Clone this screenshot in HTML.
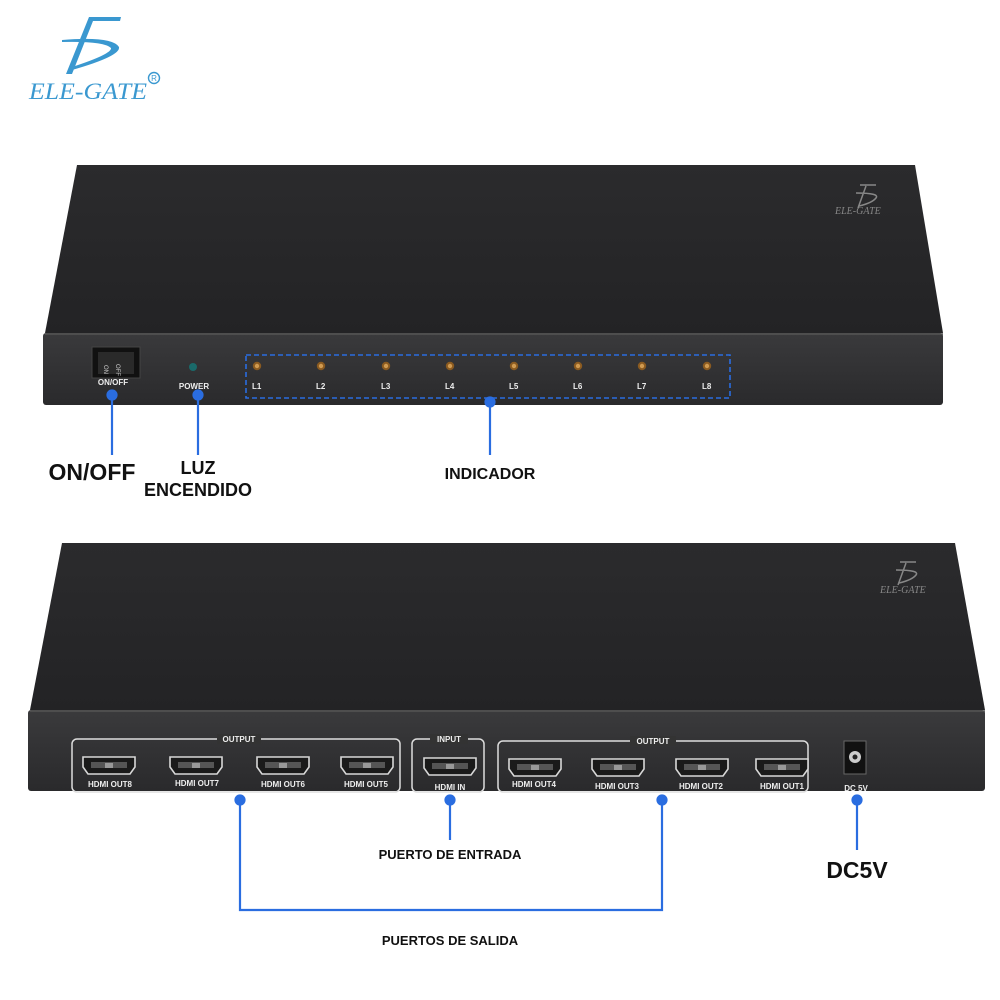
<!DOCTYPE html>
<html><head><meta charset="utf-8"><style>
html,body{margin:0;padding:0;background:#fff}
svg{display:block}
text{font-family:"Liberation Sans",sans-serif}
</style></head><body>
<svg width="1000" height="1000" viewBox="0 0 1000 1000" xmlns="http://www.w3.org/2000/svg">
<defs>
<linearGradient id="tf" x1="0" y1="0" x2="0" y2="1"><stop offset="0" stop-color="#2b2b2d"/><stop offset="1" stop-color="#232325"/></linearGradient>
<linearGradient id="fp" x1="0" y1="0" x2="0" y2="1"><stop offset="0" stop-color="#3a3a3c"/><stop offset="1" stop-color="#2a2a2c"/></linearGradient>
<g id="hdmi"><path d="M-26,-9 H26 V1 L21,8 H-21 L-26,1 Z" fill="#1a1a1a" stroke="#d8d8d8" stroke-width="1.6"/><rect x="-18" y="-4" width="36" height="6" fill="#555"/><rect x="-4" y="-3" width="8" height="5" fill="#999"/></g>
<g id="led"><circle r="4.2" fill="#8a5a20"/><circle r="2.2" fill="#d09a50"/></g>
</defs>

<g fill="#3a98d0">
<path d="M89,17 L121,17 L120,21 L93,21 L72,74 L66,74 Z"/>
<path d="M62,40 Q112,36 119,47 Q121,56 72,70 L72,67 Q112,54 111,48 Q104,41 62,42 Z"/>
</g>
<text x="29" y="99" textLength="118" lengthAdjust="spacingAndGlyphs" style="font-family:'Liberation Serif',serif;font-style:italic" font-size="23" fill="#3a98d0">ELE-GATE</text>
<circle cx="154" cy="78" r="5.5" fill="none" stroke="#3a98d0" stroke-width="1.4"/>
<text x="154" y="81" text-anchor="middle" font-size="8" fill="#3a98d0">R</text>

<path d="M77,165 L915,165 L943,333 L45,333 Z" fill="url(#tf)"/>
<rect x="43" y="333" width="900" height="72" rx="3" fill="url(#fp)"/>
<line x1="45" y1="334" x2="943" y2="334" stroke="#555" stroke-width="1.5"/>
<path d="M860,185 L876,185 M866,186 L858,208 M856,193 Q880,193 876,198 Q872,203 859,206" stroke="#888" stroke-width="1.5" fill="none"/>
<text x="835" y="214" style="font-family:'Liberation Serif',serif;font-style:italic" font-size="10" fill="#888">ELE-GATE</text>
<rect x="92" y="347" width="48" height="31" fill="#111" stroke="#444"/>
<rect x="98" y="352" width="36" height="22" fill="#2a2a2a"/>
<text x="107" y="368" font-size="6" fill="#ccc" transform="rotate(90 107 365)">ON</text>
<text x="119" y="367" font-size="6" fill="#ccc" transform="rotate(90 119 364)">OFF</text>
<text x="113" y="385" text-anchor="middle" font-size="8" font-weight="bold" fill="#eee">ON/OFF</text>
<circle cx="193" cy="367" r="4" fill="#1a6a6a"/>
<text x="194" y="389" text-anchor="middle" font-size="8" font-weight="bold" fill="#eee">POWER</text>
<rect x="246" y="355" width="484" height="43" fill="none" stroke="#2a6de0" stroke-width="1.6" stroke-dasharray="5,3"/>
<g font-size="8" font-weight="bold" fill="#eee">
<use href="#led" x="257" y="366"/><text x="252" y="389">L1</text>
<use href="#led" x="321" y="366"/><text x="316" y="389">L2</text>
<use href="#led" x="386" y="366"/><text x="381" y="389">L3</text>
<use href="#led" x="450" y="366"/><text x="445" y="389">L4</text>
<use href="#led" x="514" y="366"/><text x="509" y="389">L5</text>
<use href="#led" x="578" y="366"/><text x="573" y="389">L6</text>
<use href="#led" x="642" y="366"/><text x="637" y="389">L7</text>
<use href="#led" x="707" y="366"/><text x="702" y="389">L8</text>
</g>
<g stroke="#2a6de0" stroke-width="2.2" fill="#2a6de0">
<line x1="112" y1="395" x2="112" y2="455"/><circle cx="112" cy="395" r="4.5"/>
<line x1="198" y1="395" x2="198" y2="455"/><circle cx="198" cy="395" r="4.5"/>
<line x1="490" y1="402" x2="490" y2="455"/><circle cx="490" cy="402" r="4.5"/>
</g>
<text x="92" y="480" text-anchor="middle" font-size="23" font-weight="bold" fill="#111">ON/OFF</text>
<text x="198" y="474" text-anchor="middle" font-size="18" font-weight="bold" fill="#111">LUZ</text>
<text x="198" y="496" text-anchor="middle" font-size="18" font-weight="bold" fill="#111">ENCENDIDO</text>
<text x="490" y="479" text-anchor="middle" font-size="16" font-weight="bold" fill="#111">INDICADOR</text>

<path d="M62,543 L955,543 L985,710 L30,710 Z" fill="url(#tf)"/>
<rect x="28" y="710" width="957" height="81" rx="3" fill="url(#fp)"/>
<line x1="30" y1="711" x2="985" y2="711" stroke="#555" stroke-width="1.5"/>
<path d="M900,562 L916,562 M906,563 L898,585 M896,570 Q920,570 916,575 Q912,580 899,583" stroke="#888" stroke-width="1.5" fill="none"/>
<text x="880" y="593" style="font-family:'Liberation Serif',serif;font-style:italic" font-size="10" fill="#888">ELE-GATE</text>
<g fill="none" stroke="#ddd" stroke-width="1.5">
<rect x="72" y="739" width="328" height="53" rx="5"/>
<rect x="412" y="739" width="72" height="53" rx="5"/>
<rect x="498" y="741" width="310" height="51" rx="5"/>
</g>
<g font-size="8" font-weight="bold" fill="#eee" text-anchor="middle">
<rect x="217" y="734" width="44" height="10" fill="#333"/><text x="239" y="742">OUTPUT</text>
<rect x="430" y="734" width="38" height="10" fill="#333"/><text x="449" y="742">INPUT</text>
<rect x="630" y="736" width="46" height="10" fill="#333"/><text x="653" y="744">OUTPUT</text>
<use href="#hdmi" x="109" y="766"/><text x="110" y="787">HDMI OUT8</text>
<use href="#hdmi" x="196" y="766"/><text x="197" y="786">HDMI OUT7</text>
<use href="#hdmi" x="283" y="766"/><text x="283" y="787">HDMI OUT6</text>
<use href="#hdmi" x="367" y="766"/><text x="366" y="787">HDMI OUT5</text>
<use href="#hdmi" x="450" y="767"/><text x="450" y="790">HDMI IN</text>
<use href="#hdmi" x="535" y="768"/><text x="534" y="787">HDMI OUT4</text>
<use href="#hdmi" x="618" y="768"/><text x="617" y="789">HDMI OUT3</text>
<use href="#hdmi" x="702" y="768"/><text x="701" y="789">HDMI OUT2</text>
<use href="#hdmi" x="782" y="768"/><text x="782" y="789">HDMI OUT1</text>
<text x="856" y="791">DC 5V</text>
</g>
<rect x="844" y="741" width="22" height="33" fill="#111" stroke="#666"/>
<circle cx="855" cy="757" r="6" fill="#ccc"/><circle cx="855" cy="757" r="2.5" fill="#222"/>
<g stroke="#2a6de0" stroke-width="2.2" fill="#2a6de0">
<polyline points="240,800 240,910 662,910 662,800" fill="none"/>
<circle cx="240" cy="800" r="4.5"/><circle cx="662" cy="800" r="4.5"/>
<line x1="450" y1="800" x2="450" y2="840"/><circle cx="450" cy="800" r="4.5"/>
<line x1="857" y1="800" x2="857" y2="850"/><circle cx="857" cy="800" r="4.5"/>
</g>
<text x="450" y="859" text-anchor="middle" font-size="13" font-weight="bold" fill="#111">PUERTO DE ENTRADA</text>
<text x="857" y="878" text-anchor="middle" font-size="23" font-weight="bold" fill="#111">DC5V</text>
<text x="450" y="945" text-anchor="middle" font-size="13" font-weight="bold" fill="#111">PUERTOS DE SALIDA</text>
</svg>
</body></html>
